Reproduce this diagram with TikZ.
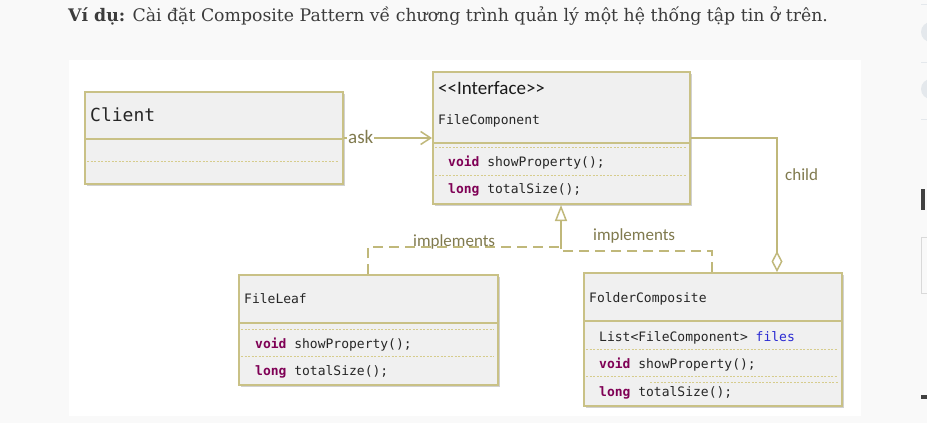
\documentclass[tikz,border=0pt]{standalone}
\usepackage{fontspec}
\setmainfont{DejaVu Serif}
\newfontfamily\uimono{DejaVu Sans Mono}
\newfontfamily\uisans{Carlito}
\usetikzlibrary{arrows.meta,calc,shadows}
\definecolor{pagebg}{RGB}{249,249,249}
\definecolor{boxfill}{RGB}{240,240,240}
\definecolor{boxdraw}{RGB}{201,193,134}
\definecolor{dotc}{RGB}{214,204,140}
\definecolor{conn}{RGB}{192,184,122}
\definecolor{lbl}{RGB}{128,122,78}
\definecolor{kw}{RGB}{127,0,85}
\definecolor{fld}{RGB}{42,42,210}
\definecolor{intro}{RGB}{60,60,60}
\definecolor{side}{RGB}{228,232,236}
\tikzset{
  umlbox/.style={draw=boxdraw, line width=2pt, fill=boxfill, anchor=north west, inner sep=0pt,
    drop shadow={shadow xshift=1.5pt, shadow yshift=-1.5pt, opacity=0.18, fill=black}},
  sepline/.style={draw=boxdraw, line width=2pt},
  dotline/.style={draw=dotc, line width=1pt, dash pattern=on 2pt off 1.5pt},
  monotxt/.style={anchor=base west, inner sep=0pt, font=\fontsize{13}{15}\uimono, text=black!85},
  conline/.style={draw=conn, line width=1.5pt},
  dashconn/.style={draw=conn, line width=1.5pt, dash pattern=on 10pt off 6pt},
  conlbl/.style={inner sep=0pt, anchor=base west, font=\fontsize{17}{19}\uisans, text=lbl},
}
\newcommand{\kwd}[1]{\textcolor{kw}{\bfseries #1}}
\begin{document}
\begin{tikzpicture}[x=1pt,y=-1pt]
\useasboundingbox (0,0) rectangle (927,423);
\fill[pagebg] (0,0) rectangle (927,423);
% side artefacts
\draw[side, line width=1pt] (921,4) -- (927,4);
\draw[side, line width=1pt] (921,62) -- (927,62);
\draw[side, line width=1pt] (921,119) -- (927,119);
\fill[side] (931,32) circle (10);
\fill[side] (931,89) circle (10);
\fill[black!75] (921,189) rectangle (925,210);
\draw[black!15, line width=1pt] (921.5,237) rectangle (930,293);
\fill[black!75] (921,395) rectangle (927,399);
% intro text
\node[anchor=base west, inner sep=0pt, font=\fontsize{17.3}{20}\selectfont, text=intro] (intro) at (68,21)
  {\textbf{Ví dụ:} Cài đặt Composite Pattern về chương trình quản lý một hệ thống tập tin ở trên.};
% white diagram area
\fill[white] (69,60) rectangle (861,416);
% Client
\node[umlbox, minimum width=258pt, minimum height=92pt] (client) at (84,91) {};
\draw[sepline] (84,139) -- (342,139);
\draw[dotline] (87,161) -- (339,161);
\node[anchor=base west, inner sep=0pt, font=\fontsize{18}{20}\uimono, text=black!85] (clientname) at (90,121) {Client};
% Interface
\node[umlbox, minimum width=257pt, minimum height=132pt] (iface) at (432,71) {};
\draw[sepline] (432,143) -- (689,143);
\draw[dotline] (435,147.5) -- (686,147.5);
\draw[dotline] (435,175) -- (686,175);
\node[anchor=base west, inner sep=0pt, font=\fontsize{19}{21}\uisans, text=black!90] (stereo) at (438,94) {<<Interface>>};
\node[monotxt] (ifname) at (438,124) {FileComponent};
\node[monotxt] (ifm1) at (448,166) {\kwd{void} showProperty();};
\node[monotxt] (ifm2) at (448,193) {\kwd{long} totalSize();};
% FileLeaf
\node[umlbox, minimum width=259pt, minimum height=110pt] (leaf) at (238,274) {};
\draw[sepline] (238,323) -- (497,323);
\draw[dotline] (241,329) -- (494,329);
\draw[dotline] (241,356) -- (494,356);
\node[monotxt] (leafname) at (244,303) {FileLeaf};
\node[monotxt] (leafm1) at (255,348) {\kwd{void} showProperty();};
\node[monotxt] (leafm2) at (255,375) {\kwd{long} totalSize();};
% FolderComposite
\node[umlbox, minimum width=258pt, minimum height=133pt] (folder) at (583,272) {};
\draw[sepline] (583,321) -- (841,321);
\draw[dotline] (586,349) -- (838,349);
\draw[dotline] (586,376.5) -- (838,376.5);
\draw[dotline] (650,382) -- (838,382);
\node[monotxt] (foldername) at (589,302) {FolderComposite};
\node[monotxt] (folderf) at (599,341) {List<FileComponent> \textcolor{fld}{files}};
\node[monotxt] (folderm1) at (599,368) {\kwd{void} showProperty();};
\node[monotxt] (folderm2) at (599,396) {\kwd{long} totalSize();};
% ask
\draw[conline, -{Straight Barb[length=10pt,width=13pt,line width=1.5pt]}] (client.east |- 0,138) -- (iface.west |- 0,138);
\node[inner sep=1pt, fill=white, anchor=base west, font=\fontsize{19}{21}\uisans, text=lbl] (ask) at (347,143) {ask};
% child aggregation
\coordinate (childbend) at (777,138);
\draw[conline, {Diamond[open,length=21pt,width=11pt,line width=1.5pt]}-] ($(folder.north west)+(194,0)$) -- (childbend) -- (iface.east |- childbend);
\node[conlbl] (childlbl) at (785,180) {child};
% implements
\coordinate (join) at (561,249);
\draw[conline, -{Triangle[open,length=16pt,width=12pt,line width=1.5pt]}] (join) -- (iface.south -| join);
\draw[dashconn] ($(leaf.north west)+(130,0)$) -- ++(0,-27) -- (561,247);
\draw[dashconn] ($(folder.north west)+(129,0)$) -- ++(0,-21) -- (561,251);
\node[conlbl] (impl1) at (413,246) {implements};
\node[conlbl] (impl2) at (593,240) {implements};
\end{tikzpicture}
\end{document}
